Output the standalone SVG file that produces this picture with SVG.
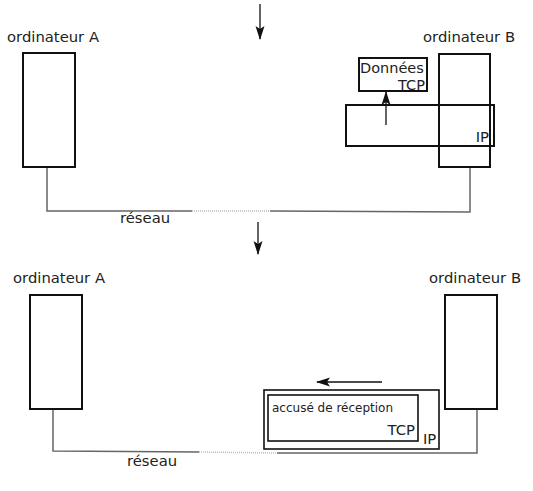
<svg xmlns="http://www.w3.org/2000/svg" width="533" height="491" viewBox="0 0 533 491">
<defs>
<style>
text{font-family:"DejaVu Sans","Liberation Sans",sans-serif;fill:#222;font-size:14.8px}
.box{fill:none;stroke:#111;stroke-width:2}
.wire{fill:none;stroke:#666;stroke-width:1.5}
.faint{fill:none;stroke:#bbb;stroke-width:1.5;stroke-dasharray:1 1}
.arr{stroke:#111;stroke-width:1.3;fill:none}
</style>
<marker id="ah" viewBox="0 0 14 10" refX="13" refY="5" markerWidth="14" markerHeight="10" markerUnits="userSpaceOnUse" orient="auto">
<path d="M0,0.5 L14,5 L0,9.5 L3,5 Z" fill="#111"/>
</marker>
</defs>
<g id="connectors">
<line class="arr" x1="260" y1="4" x2="260" y2="39" marker-end="url(#ah)"/>
<polyline class="wire" points="47,167 47,211 192,211"/>
<line class="faint" x1="192" y1="211" x2="270" y2="211"/>
<polyline class="wire" points="270,211 470,212 470,167"/>
<line class="arr" x1="386" y1="125" x2="386" y2="92" marker-end="url(#ah)"/>
<line class="arr" x1="258" y1="222" x2="258" y2="254" marker-end="url(#ah)"/>
<polyline class="wire" points="53,409 53,451 199,452"/>
<line class="faint" x1="199" y1="452" x2="277" y2="453"/>
<polyline class="wire" points="277,453 477,453 477,409"/>
<line class="arr" x1="382" y1="382" x2="317" y2="382" marker-end="url(#ah)"/>
</g>
<g id="top-computer-A">
<text x="7" y="42">ordinateur A</text>
<rect class="box" x="23" y="53" width="52" height="114"/>
</g>
<g id="top-computer-B">
<text x="423" y="42">ordinateur B</text>
<rect class="box" x="439" y="54" width="51" height="113"/>
</g>
<g id="top-ip">
<rect class="box" x="346" y="105" width="148" height="41"/>
<text x="489" y="142" text-anchor="end">IP</text>
</g>
<g id="top-tcp">
<rect class="box" x="359" y="58" width="68" height="33" style="fill:#fff"/>
<text x="360" y="73" style="font-size:14.5px">Données</text>
<text x="425" y="90" text-anchor="end" style="font-size:14.5px">TCP</text>
</g>
<g id="top-reseau"><text x="120" y="223">réseau</text></g>
<g id="bottom-computer-A">
<text x="13" y="283">ordinateur A</text>
<rect class="box" x="30" y="295" width="52" height="114"/>
</g>
<g id="bottom-computer-B">
<text x="429" y="283">ordinateur B</text>
<rect class="box" x="445" y="295" width="52" height="114"/>
</g>
<g id="bottom-ip">
<rect class="box" x="264" y="390" width="175" height="59" style="stroke-width:1.6"/>
<text x="423" y="444">IP</text>
</g>
<g id="bottom-tcp">
<rect class="box" x="268" y="395" width="150" height="46" style="stroke-width:1.6"/>
<text x="272" y="412" style="font-size:12px">accusé de réception</text>
<text x="415" y="435" text-anchor="end">TCP</text>
</g>
<g id="bottom-reseau"><text x="127" y="466">réseau</text></g>
</svg>
